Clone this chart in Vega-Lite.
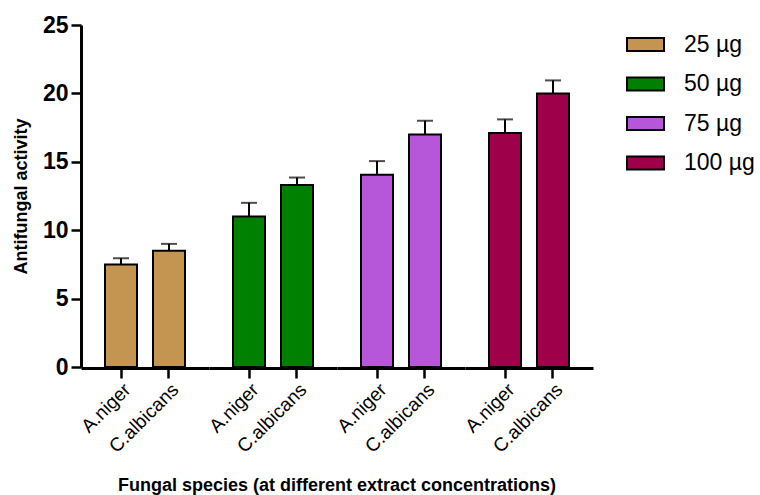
{
  "$schema": "https://vega.github.io/schema/vega-lite/v6.json",
  "padding": {"left": 12, "top": 14, "right": 5, "bottom": 3},
  "background": "white",
  "data": {
    "values": [
      {"group": "25 µg", "species": "A.niger", "value": 7.5, "upper": 7.95},
      {"group": "25 µg", "species": "C.albicans", "value": 8.5, "upper": 9.0},
      {"group": "50 µg", "species": "A.niger", "value": 11.0, "upper": 12.0},
      {"group": "50 µg", "species": "C.albicans", "value": 13.3, "upper": 13.85},
      {"group": "75 µg", "species": "A.niger", "value": 14.05, "upper": 15.05},
      {"group": "75 µg", "species": "C.albicans", "value": 17.0, "upper": 18.0},
      {"group": "100 µg", "species": "A.niger", "value": 17.1, "upper": 18.1},
      {"group": "100 µg", "species": "C.albicans", "value": 20.0, "upper": 20.95}
    ]
  },
  "spacing": 0,
  "facet": {
    "column": {
      "field": "group",
      "type": "nominal",
      "sort": ["25 µg", "50 µg", "75 µg", "100 µg"],
      "header": {
        "labels": false,
        "title": "Fungal species (at different extract concentrations)",
        "titleOrient": "bottom",
        "labelOrient": "bottom",
        "titleFont": "Liberation Sans",
        "titleFontWeight": "bold",
        "titleFontSize": 18,
        "titleColor": "black",
        "titlePadding": 10
      }
    }
  },
  "spec": {
    "width": 128,
    "height": 342,
    "encoding": {
      "x": {
        "field": "species",
        "type": "nominal",
        "sort": ["A.niger", "C.albicans"],
        "scale": {"paddingInner": 0.3333, "paddingOuter": 0.5},
        "axis": {
          "title": null,
          "labelAngle": -45,
          "labelFont": "Liberation Sans",
          "labelFontSize": 19,
          "labelColor": "black",
          "labelPadding": 2,
          "tickSize": 10,
          "tickWidth": 2.5,
          "tickColor": "black",
          "domainWidth": 3,
          "domainColor": "black"
        }
      }
    },
    "layer": [
      {
        "mark": {"type": "rule", "strokeWidth": 2, "color": "black"},
        "encoding": {
          "y": {"field": "value", "type": "quantitative"},
          "y2": {"field": "upper"}
        }
      },
      {
        "mark": {"type": "tick", "thickness": 2, "size": 16, "color": "black", "orient": "horizontal"},
        "encoding": {
          "y": {"field": "upper", "type": "quantitative"}
        }
      },
      {
        "mark": {"type": "bar", "stroke": "black", "strokeWidth": 2},
        "encoding": {
          "y": {
            "field": "value",
            "type": "quantitative",
            "scale": {"domain": [0, 25], "nice": false},
            "axis": {
              "title": "Antifungal activity",
              "values": [0, 5, 10, 15, 20, 25],
              "grid": false,
              "labelFont": "Liberation Sans",
              "labelFontWeight": "bold",
              "labelFontSize": 23,
              "labelColor": "black",
              "labelPadding": 3,
              "tickSize": 10,
              "tickWidth": 2.5,
              "tickColor": "black",
              "domainWidth": 3,
              "domainColor": "black",
              "titleFont": "Liberation Sans",
              "titleFontSize": 18,
              "titleFontWeight": "bold",
              "titleColor": "black",
              "titlePadding": 12
            }
          },
          "fill": {
            "field": "group",
            "type": "nominal",
            "sort": ["25 µg", "50 µg", "75 µg", "100 µg"],
            "scale": {
              "domain": ["25 µg", "50 µg", "75 µg", "100 µg"],
              "range": ["#C49550", "#008000", "#B657D9", "#9E0049"]
            },
            "legend": {
              "title": null,
              "orient": "right",
              "offset": 33,
              "padding": 0,
              "labelFont": "Liberation Sans",
              "labelFontSize": 23,
              "labelColor": "black",
              "labelOffset": 19,
              "symbolType": "M-1,-0.35H1V0.35H-1Z",
              "symbolSize": 1369,
              "symbolStrokeColor": "black",
              "symbolStrokeWidth": 2,
              "symbolOpacity": 1,
              "rowPadding": 7.5
            }
          }
        }
      }
    ]
  },
  "config": {
    "view": {"stroke": null},
    "font": "Liberation Sans"
  }
}
